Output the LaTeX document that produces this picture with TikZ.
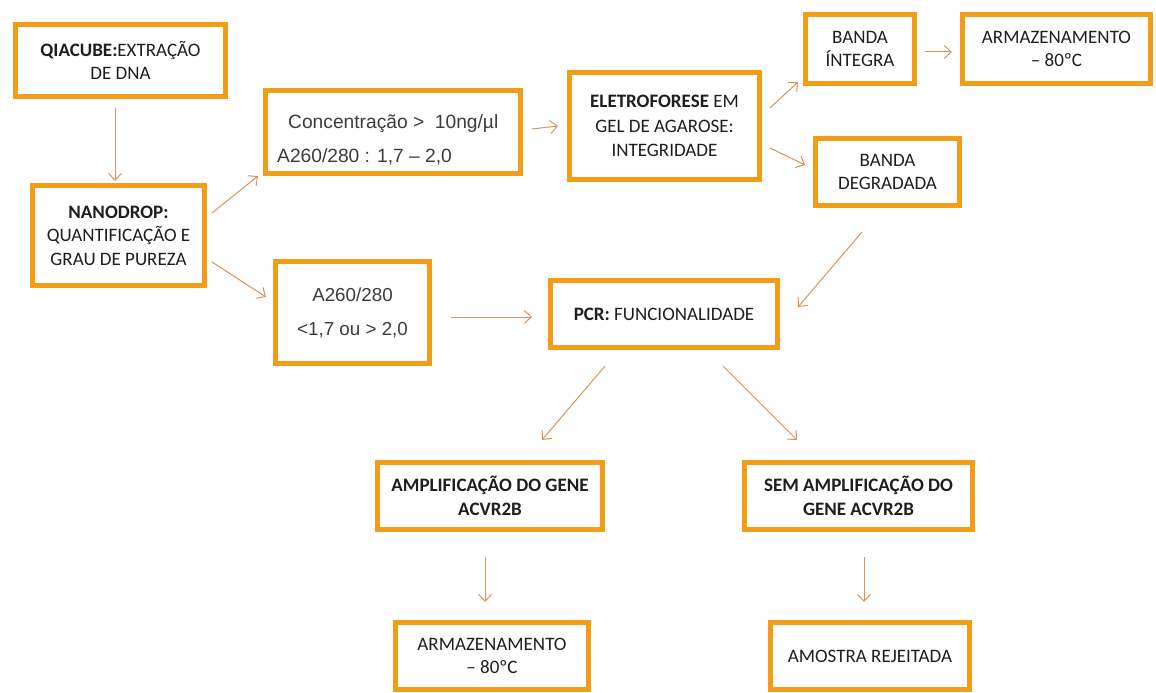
\documentclass[tikz,border=0pt]{standalone}
\usepackage{fontspec}
\setmainfont{Carlito}
\newfontfamily\arialfont{Liberation Sans}
\usetikzlibrary{arrows.meta}
\definecolor{boxorange}{RGB}{243,156,24}
\definecolor{arrowtan}{RGB}{214,148,92}
\definecolor{txtdark}{RGB}{30,30,30}
\definecolor{txtgray}{RGB}{60,60,60}
\tikzset{
  box/.style={draw=boxorange, line width=5pt, fill=white, align=center,
    inner sep=0pt, text=txtdark, font=\fontsize{19}{23.5}\selectfont},
  arialbox/.style={box, text=txtgray, font=\arialfont\fontsize{18.8}{34}\selectfont},
  conn/.style={draw=arrowtan, line width=1pt, -{Straight Barb[length=7pt,width=13pt]}}
}
\begin{document}
\begin{tikzpicture}[x=1pt,y=-1pt]
\useasboundingbox (0,0) rectangle (1156,693);
\node[box, minimum width=210pt, minimum height=72pt] (qia) at (120.5,60.5) {\textbf{QIACUBE:}EXTRAÇÃO\\DE DNA};
\node[box, minimum width=172pt, minimum height=100pt] (nano) at (118.5,235.5) {\textbf{NANODROP:}\\QUANTIFICAÇÃO E\\GRAU DE PUREZA};
\node[arialbox, minimum width=255pt, minimum height=83pt] (conc) at (393,132) {};
\node[text=txtgray, font=\arialfont\fontsize{19.2}{34}\selectfont, align=left, anchor=west, inner sep=0pt] (conctxt) at (288,140) {Concentração >\ \ 10ng/µl\\\hspace*{-11pt}A260/280 : 1,7 – 2,0};
\node[arialbox, minimum width=154pt, minimum height=102pt] (a260) at (352.5,312.5) {A260/280\\<1,7 ou > 2,0};
\node[box, minimum width=190pt, minimum height=107pt, font=\fontsize{19}{24.5}\selectfont] (eletro) at (664.5,126) {\textbf{ELETROFORESE} EM\\GEL DE AGAROSE:\\INTEGRIDADE};
\node[box, minimum width=227pt, minimum height=67pt] (pcr) at (664,314) {\textbf{PCR:} FUNCIONALIDADE};
\node[box, minimum width=109pt, minimum height=69pt] (integ) at (860,49) {BANDA\\ÍNTEGRA};
\node[box, minimum width=188pt, minimum height=69pt] (armtop) at (1056.5,49) {ARMAZENAMENTO\\– 80ºC};
\node[box, minimum width=144pt, minimum height=67pt] (deg) at (887.5,172) {BANDA\\DEGRADADA};
\node[box, minimum width=225pt, minimum height=67pt] (ampl) at (490,496) {\textbf{AMPLIFICAÇÃO DO GENE}\\\textbf{ACVR2B}};
\node[box, minimum width=228pt, minimum height=67pt] (sem) at (858.5,496) {\textbf{SEM AMPLIFICAÇÃO DO}\\\textbf{GENE ACVR2B}};
\node[box, minimum width=193pt, minimum height=67pt] (armbot) at (492,656) {ARMAZENAMENTO\\– 80ºC};
\node[box, minimum width=199pt, minimum height=67pt] (amostra) at (870,656) {AMOSTRA REJEITADA};
% connectors
\draw[conn] ([shift={(-5.5,47.5)}]qia.center) -- ([shift={(-3.5,-54.5)}]nano.center);
\draw[conn] ([shift={(93.5,-22.5)}]nano.center) -- ([shift={(-135,44)}]conc.center);
\draw[conn] ([shift={(93.5,26.5)}]nano.center) -- ([shift={(-86.5,-15.5)}]a260.center);
\draw[conn] ([shift={(139,-3)}]conc.center) -- ([shift={(-106.5,0)}]eletro.center);
\draw[conn] ([shift={(105.5,-18)}]eletro.center) -- ([shift={(-62,33)}]integ.center);
\draw[conn] ([shift={(105.5,22)}]eletro.center) -- ([shift={(-82.5,-7)}]deg.center);
\draw[conn] ([shift={(65,3)}]integ.center) -- ([shift={(-104.5,3)}]armtop.center);
\draw[conn] ([shift={(-25.5,60)}]deg.center) -- ([shift={(134,-7)}]pcr.center);
\draw[conn] ([shift={(98.5,4.5)}]a260.center) -- ([shift={(-132,3)}]pcr.center);
\draw[conn] ([shift={(-59,52)}]pcr.center) -- ([shift={(52,-56)}]ampl.center);
\draw[conn] ([shift={(59,52)}]pcr.center) -- ([shift={(-61.5,-56)}]sem.center);
\draw[conn] ([shift={(-5,61)}]ampl.center) -- ([shift={(-7,-54)}]armbot.center);
\draw[conn] ([shift={(5.5,61)}]sem.center) -- ([shift={(-6,-54)}]amostra.center);
\end{tikzpicture}
\end{document}
